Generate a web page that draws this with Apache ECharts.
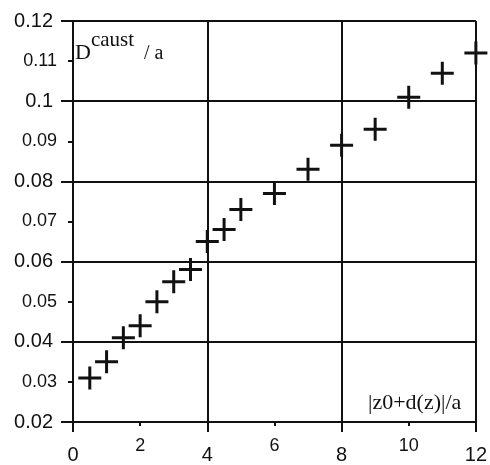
<!DOCTYPE html>
<html>
<head>
<meta charset="UTF-8" />
<title>Dcaust / a</title>
<style type="text/css">
body,html{margin:0;padding:0;border:0;width:100%;height:100%;overflow:hidden;background:#fff;}
</style>
<script src="https://cdn.jsdelivr.net/npm/echarts@6/dist/echarts.min.js"></script>
<script type="text/javascript">
// |z0+d(z)|/a
var xValues = [0.5, 1, 1.5, 2, 2.5, 3, 3.5, 4, 4.5, 5, 6, 7, 8, 9, 10, 11, 12];
// Dcaust / a
var yValues = [0.031, 0.035, 0.041, 0.044, 0.050, 0.055, 0.058, 0.065, 0.068, 0.073,
               0.077, 0.083, 0.089, 0.093, 0.101, 0.107, 0.112];
var xMajorTicks = [0, 4, 8, 12];
var yMajorTicks = [0.02, 0.04, 0.06, 0.08, 0.1, 0.12];

window.onload = function(){ init(); };

function init()
{
	var points = [];
	for (var i = 0; i < xValues.length; i++) { points.push([xValues[i], yValues[i]]); }

	var ink = '#111';
	var sans = '"Liberation Sans", Arial, sans-serif';
	var serif = '"Liberation Serif", "Times New Roman", serif';
	var cross = 'path://M10,0h3v10h10v3h-10v10h-3v-10h-10v-3h10z';

	var isMajorX = function(v){ return xMajorTicks.indexOf(Math.round(v)) >= 0; };
	var isMajorY = function(v){
		for (var k = 0; k < yMajorTicks.length; k++) { if (Math.abs(yMajorTicks[k] - v) < 1e-6) return true; }
		return false;
	};
	var fmtY = function(v){ return String(+v.toFixed(2)); };

	var option = {
		animation: false,
		backgroundColor: '#fff',
		grid: { left: 73, right: 11, top: 21, bottom: 38, containLabel: false },
		xAxis: [
			{
				type: 'value', min: 0, max: 12, interval: 4, position: 'bottom',
				axisLine: { show: true, onZero: false, lineStyle: { color: ink, width: 2 } },
				axisTick: { show: true, length: 10, lineStyle: { color: ink, width: 2 } },
				axisLabel: { margin: 23, fontSize: 20, color: ink, fontFamily: sans },
				splitLine: { show: true, lineStyle: { color: ink, width: 2 } }
			},
			{
				type: 'value', min: 0, max: 12, interval: 2, position: 'bottom',
				axisLine: { show: false },
				axisTick: { show: true, length: 4, lineStyle: { color: ink, width: 2 } },
				axisLabel: { margin: 15, fontSize: 18, color: ink, fontFamily: sans,
					formatter: function(v){ return isMajorX(v) ? '' : String(v); } },
				splitLine: { show: false }
			}
		],
		yAxis: [
			{
				type: 'value', min: 0.02, max: 0.12, interval: 0.02, position: 'left',
				axisLine: { show: true, onZero: false, lineStyle: { color: ink, width: 2 } },
				axisTick: { show: true, length: 12, lineStyle: { color: ink, width: 2 } },
				axisLabel: { margin: 20, fontSize: 20, color: ink, fontFamily: sans, formatter: fmtY },
				splitLine: { show: true, lineStyle: { color: ink, width: 2 } }
			},
			{
				type: 'value', min: 0.02, max: 0.12, interval: 0.01, position: 'left',
				axisLine: { show: false },
				axisTick: { show: true, length: 5, lineStyle: { color: ink, width: 2 } },
				axisLabel: { margin: 16, fontSize: 18, color: ink, fontFamily: sans,
					formatter: function(v){ return isMajorY(v) ? '' : fmtY(v); } },
				splitLine: { show: false }
			}
		],
		graphic: [
			{
				type: 'text', left: 75, top: 30,
				style: {
					text: '{d|D}{s|caust}{a|  / a}',
					rich: {
						d: { fontSize: 22, fontFamily: serif, fill: ink, verticalAlign: 'bottom' },
						s: { fontSize: 21, fontFamily: serif, fill: ink, padding: [0, 0, 13, 0] },
						a: { fontSize: 20, fontFamily: serif, fill: ink, verticalAlign: 'bottom' }
					}
				}
			},
			{
				type: 'text', left: 368, top: 392,
				style: { text: '|z0+d(z)|/a', fontSize: 22, fontFamily: serif, fill: ink }
			}
		],
		series: [
			{
				type: 'scatter', xAxisIndex: 0, yAxisIndex: 0,
				symbol: cross, symbolSize: 23,
				itemStyle: { color: ink, opacity: 1 },
				data: points
			}
		]
	};

	var chart = echarts.init(document.getElementById('chartContainer'));
	chart.setOption(option);
}
</script>
</head>
<body>
<div id="chartContainer" style="width:490px;height:465px;"></div>
</body>
</html>
